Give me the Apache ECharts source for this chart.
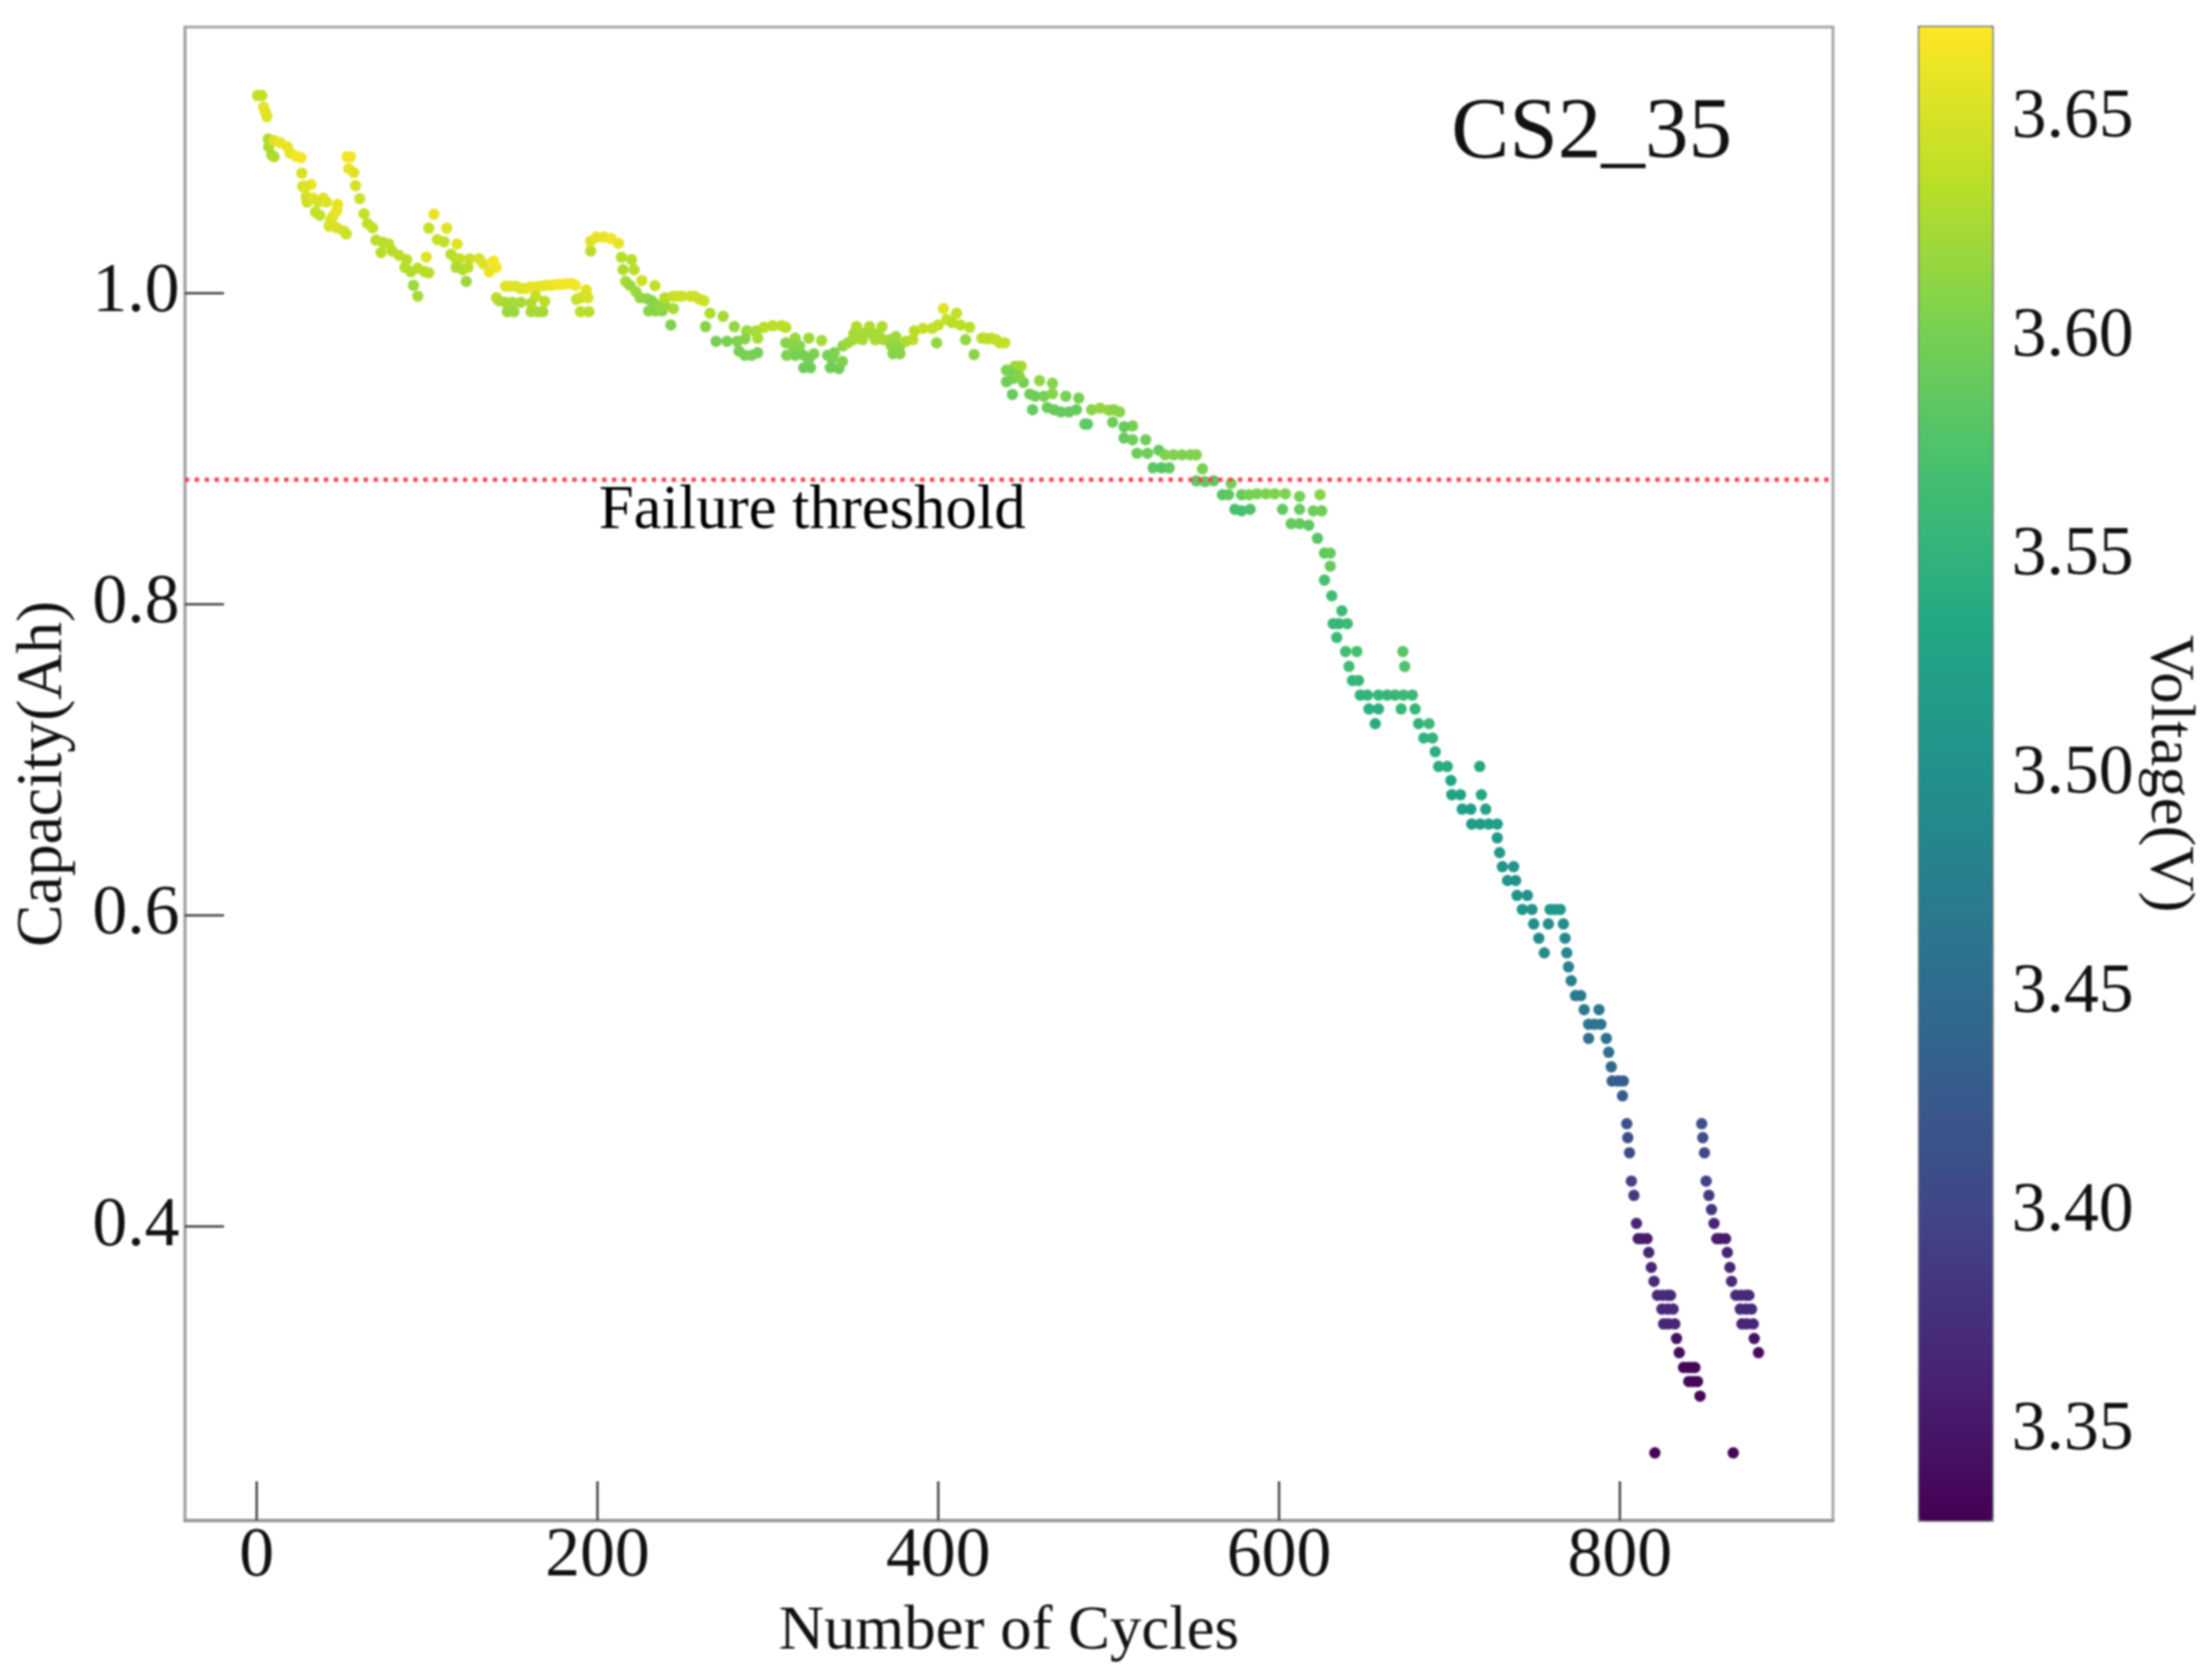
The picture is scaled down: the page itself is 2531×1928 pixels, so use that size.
<!DOCTYPE html>
<html><head><meta charset="utf-8">
<style>html,body{margin:0;padding:0;background:#fff}#c{width:2531px;height:1928px;filter:blur(0.8px)}</style>
<script src="https://cdn.jsdelivr.net/npm/echarts@6/dist/echarts.min.js"></script>
</head><body><div id="c"></div>
<script>
const cycles=[
0.5,3,4,5,6,
6.8,7,8.8,10.2,10.2,13.8,18,19.6,23,26,
26.5,27,32,29,29,29.5,33,39,36,41,
47.5,47,34.5,37,45,43.5,42.5,47,51,52.5,
53,55,54,57,58,60.5,63,65,68,70,
74,77.5,73,79.5,83.5,88,87,90.5,94.5,99.5,
98.5,101,92,94.5,104,101,111.5,106,110,117.6,
114,117,119,125,130.5,117,121,124,133,139,
140.5,136.5,123,146,149,152,155,158,161,164,
167,170,173,176,179,182,185,187,140.7,142.3,
146,150,155,147,151,161,165,168,163.7,169,
161,193.4,187.7,190,194.4,190,195,196,196,199.5,
203.7,208,212.3,214,220,215,221.5,216.5,219,226,
222.5,225,233.7,229,230,234,238,244.5,239.5,243,
232,236,239.5,244.5,249.6,254.7,260,262.5,247,257,
266,273.7,263.4,280.3,287.5,269.6,276,282,283,286.5,
290.5,294,288,286.5,294,297.7,302.8,308,310.5,293,
316,324,331.5,310.5,314.6,318.6,311,316,321,327,
324,321,325,335,337.6,336.6,341.7,343.7,339,344,
347,352,359.6,367,350.4,355.5,360.6,364.7,350,355.5,
363,368,372,375,372.4,377.5,381,373.4,377.5,385,
386,391,396.4,400,399,403,410.7,405,408,413,
418.4,416,421,425.6,429.7,431,436,439,427,434,
448.6,445,440,444,440,444,450,447.6,443.5,459.4,
467,453.7,456.8,462,467,455.3,474.8,482.4,463.9,468,
472,476.7,481,486,487.5,490,495,500,506.4,503,
502.3,514,509,509,514,521.7,516.6,522.8,529.4,526,
531,535.5,533,538,543,548,551.4,555,551.4,556.5,
561.6,571.8,566.7,570.3,578,574,578,583,582.3,587,
592.3,597.4,603.6,612,624,602,612,620,625,607,
612,617.4,622.5,626.6,630,630,626.6,630.9,636.8,631.7,
635,640,633.8,639,645.6,672.6,641,673.7,643,646.6,
647.6,651.8,658.3,663.4,668,673,678.2,652.7,658.3,671.6,
679.8,656.4,681.8,688,684.9,690,691.6,693.6,698.7,717.7,
700.8,701.3,706.4,718.7,707.4,712.5,721.2,713,718,723,
728,728,729.4,731,737.6,734,738.8,739.6,745.7,742.7,
748.4,759,762,765,749.4,758,766.8,752.4,767.8,755.6,
768.8,769.8,771.4,773.9,777,779,787.7,781.6,785,788.8,
781.6,792,793.4,794.9,795.4,799,802,801.5,804,848,
804.6,848.6,805.6,849.6,806.7,850.6,808.2,852.2,853.7,809.7,
855.2,810.7,813,815.9,856.8,859,862,816.9,863,818.4,
864.5,820,865.5,822,825,828,829.7,868,871,874,
875.7,824.6,828,831.2,870.6,874,877.2,825.6,828.5,832.2,
871.6,874.5,878.2,833.2,878.8,834.8,881.3,837.3,840,842,
844,840.4,843,845.5,847,820.5,866.5];
const capacity=[
1.127,1.127,1.1195,1.1167,1.1134,
1.099,1.094,1.0887,1.0876,1.098,1.0966,1.094,1.090,1.088,1.087,
1.077,1.0686,1.0697,1.0686,1.062,1.0585,1.061,1.061,1.0585,1.0585,
1.057,1.053,1.052,1.05,1.05,1.047,1.043,1.042,1.04,1.038,
1.0876,1.0876,1.080,1.0775,1.069,1.0607,1.051,1.0447,1.042,1.034,
1.0327,1.0316,1.026,1.027,1.0243,1.0215,1.0165,1.0137,1.016,1.0232,
1.0137,1.013,1.005,0.998,1.0507,1.0417,1.0417,1.0344,1.033,1.0316,
1.025,1.022,1.022,1.022,1.022,1.0165,1.015,1.0165,1.0188,1.0205,
1.0165,1.0137,1.0075,1.0044,1.0044,1.0044,1.003,1.003,1.004,1.004,
1.0045,1.005,1.005,1.0055,1.0055,1.006,1.006,1.005,0.997,0.995,
0.994,0.994,0.994,0.988,0.988,0.988,0.988,0.988,0.998,0.9947,
0.9935,1.002,0.996,0.997,0.997,0.988,0.988,1.027,1.0333,1.036,
1.036,1.035,1.032,1.023,1.0215,1.015,1.015,1.0075,1.005,1.008,
1.001,0.997,1.0048,0.9964,0.9885,0.9885,0.9885,0.99,0.9925,0.9795,
0.995,0.992,0.997,0.998,0.998,0.998,0.996,0.995,0.998,0.998,
0.987,0.985,0.9784,0.9784,0.9756,0.969,0.969,0.969,0.9627,0.96,
0.96,0.9616,0.9756,0.9705,0.971,0.978,0.979,0.979,0.978,0.9756,
0.971,0.971,0.9695,0.968,0.966,0.966,0.96,0.96,0.96,0.961,
0.9577,0.952,0.952,0.96,0.9577,0.952,0.9515,0.956,0.9616,0.966,
0.968,0.9784,0.9784,0.9784,0.974,0.974,0.974,0.974,0.97,0.97,
0.97,0.97,0.97,0.972,0.966,0.966,0.969,0.961,0.961,0.97,
0.9756,0.9773,0.9773,0.9795,0.968,0.99,0.987,0.983,0.981,0.9795,
0.978,0.97,0.9605,0.971,0.9705,0.971,0.968,0.968,0.971,0.97,
0.953,0.953,0.9505,0.9476,0.943,0.945,0.9426,0.9465,0.9348,0.9437,
0.942,0.935,0.9337,0.9337,0.9353,0.925,0.9337,0.9325,0.9264,0.925,
0.9236,0.9236,0.925,0.9158,0.9158,0.925,0.926,0.9247,0.9236,0.925,
0.917,0.9146,0.914,0.9068,0.9057,0.9057,0.897,0.897,0.899,0.8877,
0.8877,0.8877,0.896,0.896,0.896,0.896,0.896,0.887,0.8793,0.8788,
0.8793,0.8777,0.8704,0.8704,0.8704,0.861,0.86,0.861,0.8704,0.871,
0.871,0.871,0.871,0.8693,0.8704,0.861,0.861,0.86,0.86,0.8518,
0.8518,0.8507,0.8423,0.8329,0.8329,0.8245,0.8155,0.8054,0.7958,0.7875,
0.7875,0.7875,0.7786,0.7696,0.7696,0.7696,0.760,0.760,0.751,0.751,
0.7416,0.7416,0.7416,0.7416,0.7416,0.7416,0.7416,0.7327,0.7327,0.7327,
0.7327,0.7232,0.7232,0.7232,0.714,0.714,0.7052,0.6957,0.6957,0.6957,
0.6867,0.6775,0.6775,0.6775,0.6683,0.6683,0.6683,0.6587,0.6587,0.6587,
0.6587,0.6498,0.6403,0.6313,0.6313,0.6224,0.6224,0.6128,0.6128,0.6038,
0.6038,0.6038,0.6038,0.6038,0.5945,0.5945,0.5945,0.5853,0.5853,0.5759,
0.5759,0.5669,0.558,0.5484,0.5484,0.5394,0.5394,0.53,0.53,0.53,
0.5209,0.5209,0.512,0.5026,0.4935,0.4935,0.4935,0.484,0.4661,0.4661,
0.4571,0.4571,0.4474,0.4474,0.4292,0.4292,0.42,0.42,0.4109,0.402,
0.402,0.3922,0.3922,0.3922,0.3922,0.3922,0.3922,0.3833,0.3833,0.3737,
0.3737,0.3648,0.3648,0.3558,0.3558,0.3558,0.3558,0.3558,0.3558,0.3558,
0.3558,0.3469,0.3469,0.3469,0.3469,0.3469,0.3469,0.3374,0.3374,0.3374,
0.3374,0.3374,0.3374,0.328,0.328,0.3189,0.3189,0.3094,0.3094,0.3094,
0.3094,0.3004,0.3004,0.3004,0.291,0.2545,0.2545];
const voltage=[
3.64,3.64,3.66,3.66,3.655,
3.63,3.63,3.625,3.63,3.655,3.66,3.66,3.66,3.665,3.665,
3.65,3.65,3.665,3.655,3.65,3.645,3.655,3.655,3.65,3.655,
3.66,3.66,3.64,3.64,3.66,3.655,3.65,3.65,3.65,3.645,
3.665,3.665,3.66,3.655,3.65,3.645,3.64,3.64,3.64,3.635,
3.635,3.635,3.635,3.635,3.635,3.635,3.635,3.63,3.635,3.655,
3.635,3.635,3.62,3.625,3.66,3.64,3.655,3.64,3.64,3.655,
3.635,3.635,3.64,3.645,3.65,3.63,3.63,3.635,3.655,3.665,
3.665,3.66,3.62,3.655,3.655,3.655,3.655,3.655,3.66,3.66,
3.66,3.66,3.66,3.665,3.665,3.665,3.665,3.665,3.635,3.63,
3.625,3.625,3.625,3.62,3.62,3.625,3.625,3.625,3.64,3.635,
3.63,3.655,3.64,3.645,3.65,3.635,3.635,3.635,3.655,3.66,
3.66,3.665,3.66,3.635,3.635,3.63,3.635,3.625,3.62,3.645,
3.62,3.615,3.64,3.615,3.61,3.61,3.61,3.625,3.62,3.605,
3.61,3.615,3.635,3.64,3.645,3.645,3.645,3.645,3.645,3.645,
3.63,3.625,3.61,3.615,3.62,3.6,3.6,3.605,3.6,3.6,
3.6,3.6,3.62,3.61,3.625,3.635,3.635,3.635,3.635,3.625,
3.62,3.62,3.625,3.61,3.61,3.61,3.605,3.6,3.6,3.605,
3.6,3.595,3.595,3.6,3.6,3.595,3.595,3.605,3.605,3.615,
3.62,3.63,3.63,3.63,3.625,3.625,3.625,3.625,3.625,3.625,
3.625,3.625,3.62,3.62,3.615,3.615,3.63,3.61,3.61,3.635,
3.635,3.64,3.64,3.64,3.615,3.655,3.64,3.64,3.635,3.635,
3.635,3.615,3.61,3.635,3.635,3.64,3.64,3.64,3.635,3.64,
3.625,3.62,3.605,3.6,3.595,3.6,3.6,3.61,3.59,3.615,
3.61,3.595,3.595,3.6,3.61,3.59,3.6,3.6,3.595,3.59,
3.59,3.59,3.59,3.585,3.585,3.61,3.615,3.615,3.61,3.61,
3.595,3.6,3.59,3.59,3.595,3.595,3.595,3.595,3.59,3.585,
3.58,3.585,3.605,3.605,3.605,3.605,3.605,3.6,3.585,3.585,
3.585,3.6,3.58,3.585,3.59,3.57,3.57,3.575,3.6,3.6,
3.605,3.605,3.605,3.6,3.61,3.585,3.59,3.595,3.595,3.59,
3.59,3.585,3.58,3.585,3.59,3.59,3.57,3.565,3.56,3.555,
3.555,3.56,3.56,3.565,3.57,3.58,3.565,3.575,3.555,3.555,
3.55,3.55,3.555,3.555,3.555,3.56,3.56,3.545,3.545,3.555,
3.555,3.54,3.55,3.56,3.55,3.55,3.545,3.54,3.54,3.535,
3.53,3.525,3.525,3.535,3.52,3.52,3.525,3.515,3.515,3.52,
3.52,3.515,3.51,3.505,3.505,3.505,3.5,3.505,3.5,3.505,
3.505,3.51,3.51,3.51,3.495,3.495,3.495,3.49,3.49,3.49,
3.485,3.48,3.475,3.47,3.47,3.465,3.465,3.46,3.46,3.46,
3.455,3.455,3.45,3.445,3.435,3.43,3.43,3.425,3.415,3.415,
3.41,3.41,3.405,3.405,3.395,3.395,3.385,3.385,3.38,3.365,
3.365,3.355,3.355,3.355,3.355,3.355,3.355,3.365,3.365,3.365,
3.365,3.37,3.37,3.37,3.37,3.37,3.37,3.37,3.37,3.37,
3.37,3.37,3.37,3.37,3.37,3.37,3.37,3.365,3.365,3.365,
3.365,3.365,3.365,3.345,3.345,3.34,3.34,3.335,3.335,3.335,
3.335,3.335,3.335,3.335,3.335,3.335,3.335];
const xTicks=[0,200,400,600,800];
const yTicks=[0.4,0.6,0.8,1.0];
const voltageTicks=[3.35,3.40,3.45,3.50,3.55,3.60,3.65];
const xRange=[-42.2,925];
const yRange=[0.211,1.171];
const voltageRange=[3.3295,3.671];
const thresholdCapacity=0.88;
const viridis=['#440154','#482475','#414487','#355f8d','#2a788e','#21918c','#22a884','#44bf70','#7ad151','#bddf26','#fde725'];
if(cycles.length!==capacity.length||cycles.length!==voltage.length)console.error('length mismatch',cycles.length,capacity.length,voltage.length);
const points=cycles.map((c,i)=>[c,capacity[i],voltage[i]]);
const FONT='"Liberation Serif"';
const INK='#111';
const chart=echarts.init(document.getElementById('c'),null,{renderer:'canvas',width:2531,height:1928});
chart.setOption({
  animation:false,backgroundColor:'#fff',
  title:{text:'CS2_35',left:1665,top:104,padding:0,textStyle:{fontFamily:FONT,fontSize:100,fontWeight:'normal',color:INK}},
  grid:[
    {left:212,top:31,width:1891,height:1714,show:true,borderColor:'#a0a0a0',borderWidth:3,containLabel:false,outerBoundsMode:'none'},
    {left:2202,top:31,width:84,height:1714,show:true,borderColor:'#777',borderWidth:3,backgroundColor:'transparent',containLabel:false,outerBoundsMode:'none'}
  ],
  xAxis:[
    {type:'value',gridIndex:0,min:xRange[0],max:xRange[1],name:'Number of Cycles',nameLocation:'middle',nameGap:92,
     nameTextStyle:{fontFamily:FONT,fontSize:72,color:INK},
     axisLine:{show:true,onZero:false,lineStyle:{color:'#999',width:4}},
     axisTick:{show:true,inside:true,length:45,customValues:xTicks,lineStyle:{color:'#555',width:3}},
     axisLabel:{show:true,margin:2,customValues:xTicks,fontFamily:FONT,fontSize:80,color:INK,formatter:v=>String(v)},
     splitLine:{show:false}},
    {type:'value',gridIndex:1,show:false,min:0,max:1}
  ],
  yAxis:[
    {type:'value',gridIndex:0,min:yRange[0],max:yRange[1],name:'Capacity(Ah)',nameLocation:'middle',nameRotate:90,nameGap:125,
     nameTextStyle:{fontFamily:FONT,fontSize:73,color:INK},
     axisLine:{show:true,onZero:false,lineStyle:{color:'#a0a0a0',width:3}},
     axisTick:{show:true,inside:true,length:45,customValues:yTicks,lineStyle:{color:'#555',width:3}},
     axisLabel:{show:true,margin:6,customValues:yTicks,fontFamily:FONT,fontSize:80,color:INK,padding:[16,0,0,0],formatter:v=>v.toFixed(1)},
     splitLine:{show:false}},
    {type:'value',gridIndex:1,position:'right',min:voltageRange[0],max:voltageRange[1],name:'Voltage(V)',nameLocation:'middle',nameRotate:-90,nameGap:154,
     nameTextStyle:{fontFamily:FONT,fontSize:72,color:INK},
     axisLine:{show:false},
     axisTick:{show:true,inside:false,length:11,customValues:voltageTicks,lineStyle:{color:'#333',width:3}},
     axisLabel:{show:true,margin:22,customValues:voltageTicks,fontFamily:FONT,fontSize:80,color:INK,padding:[20,0,0,0],formatter:v=>v.toFixed(2)},
     splitLine:{show:false}}
  ],
  visualMap:{type:'continuous',seriesIndex:0,dimension:2,min:voltageRange[0],max:voltageRange[1],
    left:2202,top:31,itemWidth:84,itemHeight:1714,padding:0,calculable:false,text:null,showLabel:false,hoverLink:false,
    inRange:{color:viridis},textStyle:{fontSize:1,color:'rgba(0,0,0,0)'}},
  series:[
    {type:'scatter',xAxisIndex:0,yAxisIndex:0,data:points,symbol:'circle',symbolSize:13,silent:true,z:3,itemStyle:{opacity:1},encode:{x:0,y:1}},
    {type:'line',xAxisIndex:0,yAxisIndex:0,data:[[xRange[0],thresholdCapacity],[xRange[1],thresholdCapacity]],symbol:'none',silent:true,z:4,
     lineStyle:{color:'#ff4455',width:5,type:[5,6.4]}},
    {type:'scatter',xAxisIndex:0,yAxisIndex:0,data:[[326,0.8597]],symbolSize:0,silent:true,z:5,itemStyle:{opacity:1},
     label:{show:true,position:'inside',formatter:'Failure threshold',fontFamily:FONT,fontSize:72,color:'#000',opacity:1}}
  ]
});
</script></body></html>
